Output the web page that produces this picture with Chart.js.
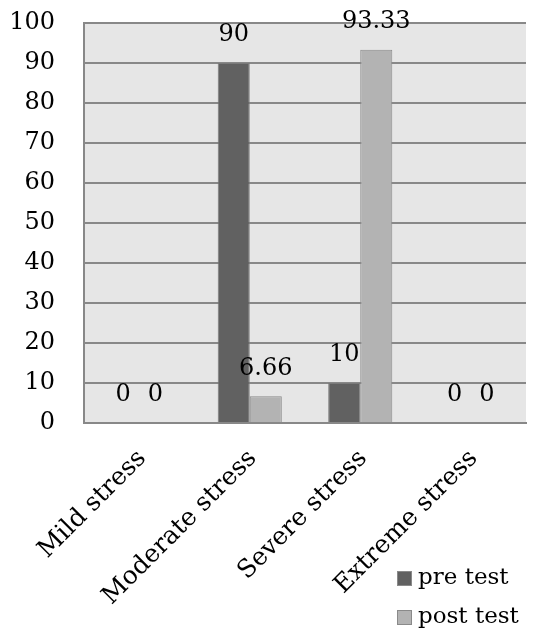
<!DOCTYPE html>
<html>
<head>
<meta charset="utf-8">
<script src="https://cdn.jsdelivr.net/npm/chart.js@4.4.1/dist/chart.umd.min.js"></script>
<style>
  html, body { margin: 0; padding: 0; background: #fff; }
  #wrap { width: 553px; height: 632px; }
</style>
</head>
<body>
<div id="wrap"><canvas id="stress-chart"></canvas></div>
<script>
// Stress levels, pre vs post test (%)
const categories = ["Mild stress", "Moderate stress", "Severe stress", "Extreme stress"];
const preTest = [0, 90, 10, 0];
const postTest = [0, 6.66, 93.33, 0];
const seriesNames = ["pre test", "post test"];

const fontFamily = "'DejaVu Serif', serif";

// Grey plot background
const plotBackground = {
    id: "plotBackground",
    beforeDraw(chart) {
        const { ctx, chartArea } = chart;
        ctx.save();
        ctx.fillStyle = "#e6e6e6";
        ctx.fillRect(chartArea.left, chartArea.top, chartArea.right - chartArea.left, chartArea.bottom - chartArea.top);
        ctx.restore();
    }
};

// Value labels above each bar
const valueLabels = {
    id: "valueLabels",
    afterDatasetsDraw(chart) {
        const ctx = chart.ctx;
        ctx.save();
        ctx.font = "24px " + fontFamily;
        ctx.fillStyle = "#000";
        ctx.textAlign = "center";
        ctx.textBaseline = "middle";
        chart.data.datasets.forEach((ds, i) => {
            const meta = chart.getDatasetMeta(i);
            meta.data.forEach((bar, j) => {
                ctx.fillText(String(ds.data[j]), bar.x, bar.y - 28);
            });
        });
        ctx.restore();
    }
};

// Stacked legend in the lower right corner
const stackedLegend = {
    id: "stackedLegend",
    afterDraw(chart) {
        const ctx = chart.ctx;
        ctx.save();
        ctx.font = "23px " + fontFamily;
        ctx.textBaseline = "middle";
        chart.data.datasets.forEach((ds, i) => {
            const y = 578 + i * 39;
            ctx.fillStyle = ds.backgroundColor;
            ctx.fillRect(397, y - 7, 15, 15);
            ctx.strokeStyle = "#8a8a8a";
            ctx.lineWidth = 1;
            ctx.strokeRect(397.5, y - 6.5, 14, 14);
            ctx.fillStyle = "#000";
            ctx.fillText(ds.label, 418, y);
        });
        ctx.restore();
    }
};

new Chart(document.getElementById("stress-chart"), {
    type: "bar",
    data: {
        labels: categories,
        datasets: [{
            label: seriesNames[0],
            data: preTest,
            backgroundColor: "#616161",
            borderColor: "#7a7a7a",
            borderWidth: 1
        }, {
            label: seriesNames[1],
            data: postTest,
            backgroundColor: "#b3b3b3",
            borderColor: "#8a8a8a",
            borderWidth: 1
        }]
    },
    options: {
        responsive: true,
        maintainAspectRatio: false,
        animation: false,
        layout: { padding: { top: 23, right: 27, left: 0, bottom: 0 } },
        datasets: { bar: { barPercentage: 1, categoryPercentage: 0.58 } },
        plugins: {
            legend: { display: false },
            tooltip: { enabled: false }
        },
        scales: {
            x: {
                grid: { display: false, drawTicks: false },
                border: { display: true, color: "#888", width: 2 },
                ticks: {
                    color: "#000",
                    font: { family: fontFamily, size: 25 },
                    minRotation: 45,
                    maxRotation: 45,
                    padding: 21,
                    labelOffset: 3
                },
                afterFit(scale) { scale.height = 209; }
            },
            y: {
                min: 0,
                max: 100,
                grid: { color: "#888", lineWidth: 2, drawTicks: true, tickLength: 29, tickColor: "rgba(0,0,0,0)" },
                border: { display: true, color: "#888", width: 2 },
                ticks: {
                    stepSize: 10,
                    color: "#000",
                    font: { family: fontFamily, size: 24 },
                    padding: 0
                },
                afterFit(scale) { scale.width = 84; }
            }
        }
    },
    plugins: [plotBackground, valueLabels, stackedLegend]
});
</script>
</body>
</html>
